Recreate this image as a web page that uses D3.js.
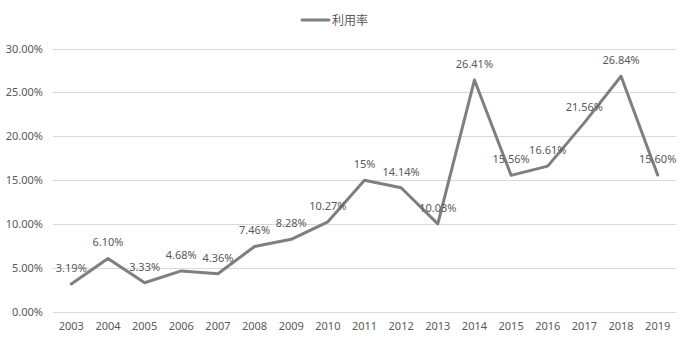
<!DOCTYPE html>
<html>
<head>
<meta charset="utf-8">
<script src="https://cdn.jsdelivr.net/npm/d3@7"></script>
<style>
  html, body { margin: 0; padding: 0; background: #fff; }
  svg { display: block; }
  text { font-family: "Noto Sans", "Noto Sans CJK SC", sans-serif; fill: #595959; }
</style>
</head>
<body>
<svg id="chart" width="688" height="342"></svg>
<script>
// Years on the x axis
const years = ["2003","2004","2005","2006","2007","2008","2009","2010","2011","2012","2013","2014","2015","2016","2017","2018","2019"];
// Utilisation rate (%), written as displayed in the point labels
const rateText = ["3.19","6.10","3.33","4.68","4.36","7.46","8.28","10.27","15","14.14","10.03","26.41","15.56","16.61","21.56","26.84","15.60"];
const rates = rateText.map(Number);
// Y axis ticks (%)
const yTicks = [0, 5, 10, 15, 20, 25, 30];
const seriesName = "利用率";

const svg = d3.select("#chart");
const plot = { left: 53, right: 676, top: 48.5, bottom: 312 };

const x = d3.scaleBand().domain(years).range([plot.left, plot.right]);
const y = d3.scaleLinear().domain([0, 30]).range([plot.bottom, plot.top]);

// Horizontal gridlines
svg.append("g").selectAll("line").data(yTicks).join("line")
  .attr("x1", plot.left).attr("x2", plot.right)
  .attr("y1", d => Math.round(y(d)) + 0.5).attr("y2", d => Math.round(y(d)) + 0.5)
  .attr("stroke", "#d9d9d9").attr("stroke-width", 1);

// Y axis labels
const yAxis = d3.axisLeft(y).tickValues(yTicks).tickSize(0).tickPadding(10)
  .tickFormat(d => d.toFixed(2) + "%");
svg.append("g").attr("transform", `translate(${plot.left},0)`).call(yAxis)
  .call(g => g.select(".domain").remove())
  .selectAll("text").attr("font-size", 11).style("fill", "#595959")
  .style("font-family", "'Noto Sans', sans-serif");

// X axis labels
const xAxis = d3.axisBottom(x).tickSize(0).tickPadding(10);
svg.append("g").attr("transform", `translate(0,${plot.bottom})`).call(xAxis)
  .call(g => g.select(".domain").remove())
  .selectAll("text").attr("font-size", 11).style("fill", "#595959")
  .style("font-family", "'Noto Sans', sans-serif");

// Series line
const cx = d => x(d) + x.bandwidth() / 2;
const line = d3.line().x((d, i) => cx(years[i])).y(d => y(d));
svg.append("path").datum(rates)
  .attr("d", line)
  .attr("fill", "none").attr("stroke", "#7f7f7f").attr("stroke-width", 3)
  .attr("stroke-linejoin", "round").attr("stroke-linecap", "round");

// Point labels
svg.append("g").selectAll("text").data(rates).join("text")
  .attr("x", (d, i) => cx(years[i]))
  .attr("y", d => y(d) - 12)
  .attr("text-anchor", "middle")
  .attr("font-size", 11)
  .text((d, i) => rateText[i] + "%");

// Legend
const lg = svg.append("g");
lg.append("line").attr("x1", 302).attr("x2", 329).attr("y1", 20).attr("y2", 20)
  .attr("stroke", "#7f7f7f").attr("stroke-width", 3).attr("stroke-linecap", "round");
lg.append("text").attr("x", 332).attr("y", 24.5).attr("font-size", 12)
  .style("font-family", "'Noto Sans CJK SC', sans-serif").text(seriesName);
</script>
</body>
</html>
